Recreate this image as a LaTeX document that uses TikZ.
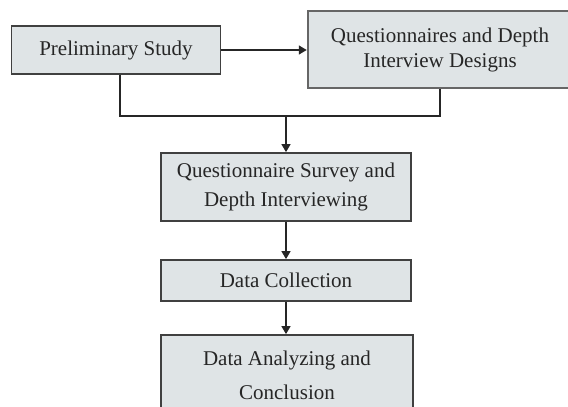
\documentclass[tikz,border=0pt]{standalone}
\usepackage{fontspec}
\setmainfont{Liberation Serif}
\usetikzlibrary{arrows.meta}
\tikzset{
  x=1pt, y=-1pt,
  box/.style={draw=black!75, line width=1.8pt, fill=boxfill, rectangle, align=center,
    inner sep=0pt, font=\fontsize{21}{26}\selectfont, text=black!85},
  conn/.style={line width=1.5pt, draw=black!85},
  arr/.style={conn, -{Triangle[length=8pt,width=9pt]}},
}
\definecolor{boxfill}{HTML}{DFE4E6}
\begin{document}
\begin{tikzpicture}
\useasboundingbox (0,0) rectangle (568,407);
\clip (0,0) rectangle (568,407);
\fill[white] (0,0) rectangle (568,407);
\node[box, minimum width=209pt, minimum height=48pt] (b1) at (116,50) {Preliminary Study};
\node[box, draw=black!60, line width=2.5pt, minimum width=264pt, minimum height=77pt,
  font=\fontsize{21}{25}\selectfont] (b2) at (440,49.5) {Questionnaires and Depth\\Interview Designs};
\node[box, minimum width=250pt, minimum height=68pt,
  font=\fontsize{21}{29}\selectfont] (b3) at (286,187) {Questionnaire Survey and\\Depth Interviewing};
\node[box, minimum width=250pt, minimum height=41pt] (b4) at (286,280.5) {Data Collection};
\node[box, minimum width=252pt, minimum height=80pt,
  font=\fontsize{21}{34}\selectfont] (b5) at (287,375) {Data Analyzing and\\Conclusion};
\coordinate (j) at (286,116);
\draw[arr] (b1.east) -- (b1.east -| b2.west);
\draw[conn] ([xshift=4pt]b1.south) |- (j);
\draw[conn] (b2.south) |- (j);
\draw[arr] (j) -- (b3.north);
\draw[arr] (b3.south) -- (b4.north);
\draw[arr] (b4.south) -- (b4.south |- b5.north);
\end{tikzpicture}
\end{document}
